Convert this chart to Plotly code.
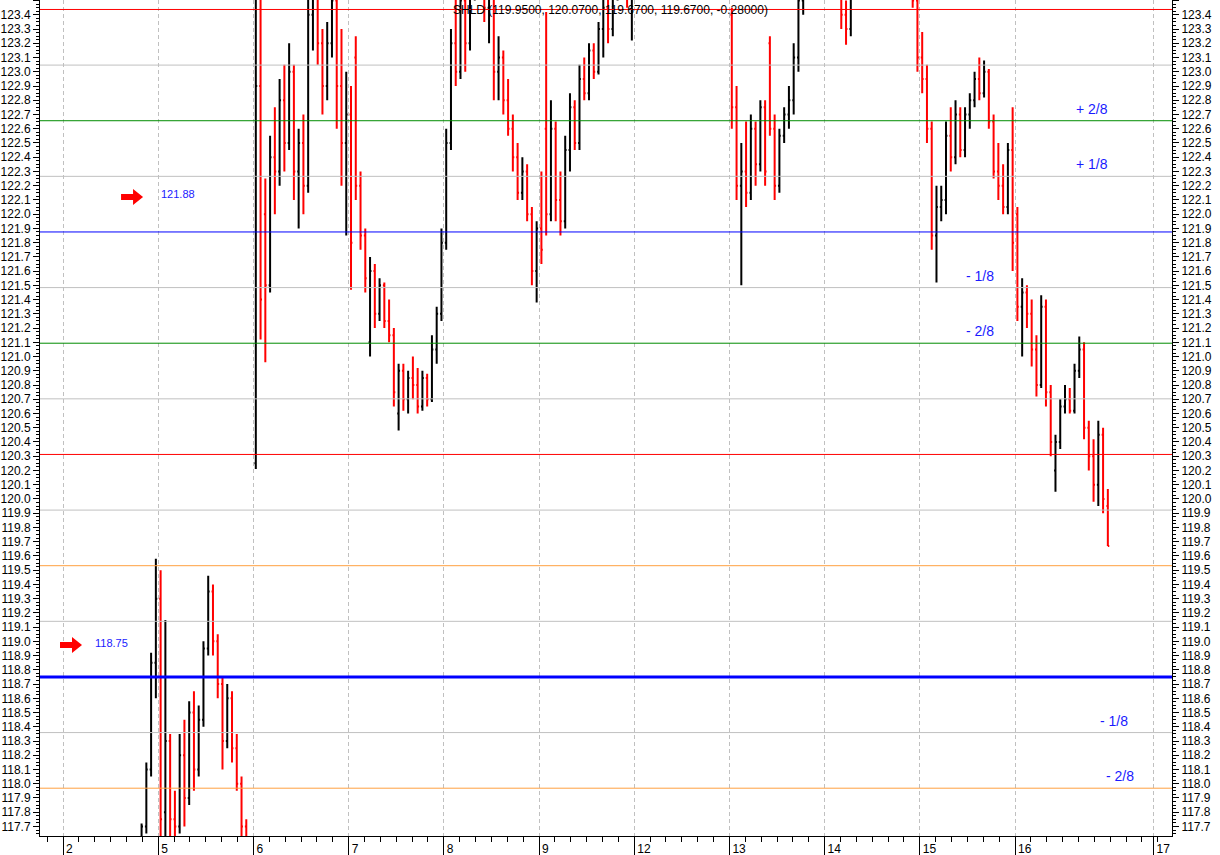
import plotly.graph_objects as go

# ---------------- data ----------------
day_labels = ["2", "5", "6", "7", "8", "9", "12", "13", "14", "15", "16", "17"]
day_tick_pos = [0, 1, 2, 3, 4, 5, 6, 7, 8, 9, 10, 11.455]
bars_per_day = 20
first_slot = 16  # first bar sits in slot 16 of session "2"

opens = [
    117.62, 117.70, 118.10, 118.85,
    119.30, 117.80, 118.30, 117.75, 117.70, 118.20, 117.90, 118.50, 118.10, 118.45, 118.95, 119.35, 119.00, 118.70, 118.30, 118.60, 118.25, 118.00, 117.70, 117.45,
    120.25, 122.90, 122.00, 121.50, 122.40, 122.30, 122.80, 122.50, 123.00, 122.30, 122.50, 122.20, 123.40, 123.60, 123.20, 122.90, 123.20, 123.50, 122.90, 122.50,
    122.70, 123.10, 122.20, 121.85, 121.10, 121.60, 121.30, 121.50, 121.25, 121.15, 120.60, 120.90, 120.70, 120.85, 120.80, 120.65, 120.85, 120.70, 121.05, 121.30,
    121.80, 122.50, 123.20, 123.00, 123.50, 123.20, 123.70, 123.90, 123.80, 123.45, 123.60, 123.00, 123.10, 122.80, 122.60, 122.40, 122.15, 122.30, 122.00, 121.60,
    121.90, 122.60, 122.00, 122.60, 122.10, 121.95, 122.45, 122.75, 122.50, 122.95, 122.85, 123.15, 123.00, 123.30, 123.45, 123.30, 123.60, 123.80, 123.70, 123.55,
    123.80, 124.00, 124.20, 124.10, 124.30, 124.50, 124.30, 124.20, 124.05, 124.30, 124.40, 124.15, 124.00, 124.10, 124.25, 124.20, 123.95, 124.05, 123.95, 123.80,
    123.40, 122.75, 122.20, 122.30, 122.15, 122.60, 122.35, 122.75, 123.20, 122.60, 122.20, 122.55, 122.70, 122.80, 123.10, 123.50, 123.85, 124.00, 123.90, 124.20,
    124.10, 124.00, 123.80, 123.60, 123.40, 123.30, 123.70, 123.90, 124.10, 124.20, 124.35, 124.20, 124.05, 124.20, 124.10, 123.90, 123.75, 123.90, 123.65, 123.50,
    123.10, 122.95, 122.60, 121.85, 122.05, 122.10, 122.55, 122.40, 122.70, 122.45, 122.70, 122.80, 122.95, 122.85, 123.00, 122.65, 122.30, 122.20, 122.05, 122.45,
    122.00, 121.35, 121.45, 121.30, 121.05, 120.80, 121.35, 120.75, 120.20, 120.40, 120.65, 120.70, 120.62, 120.90, 121.05, 120.50, 120.30, 120.10, 120.45, 119.95,
]
highs = [
    117.72, 118.15, 118.92, 119.58,
    119.50, 119.15, 118.35, 117.95, 118.35, 118.45, 118.58, 118.65, 118.55, 119.00, 119.46, 119.40, 119.05, 118.75, 118.70, 118.65, 118.35, 118.05, 117.75, 117.50,
    123.60, 123.55, 122.25, 122.55, 122.75, 122.95, 123.05, 123.20, 123.05, 122.60, 122.70, 123.60, 123.80, 123.70, 123.30, 123.35, 123.70, 123.55, 123.30, 123.00,
    122.90, 123.25, 122.30, 121.90, 121.70, 121.65, 121.55, 121.52, 121.40, 121.20, 120.95, 120.95, 120.90, 121.00, 120.92, 120.90, 120.88, 121.15, 121.35, 121.90,
    122.60, 123.30, 123.55, 123.60, 123.55, 123.80, 124.00, 124.10, 123.90, 123.70, 123.65, 123.25, 123.15, 122.95, 122.70, 122.50, 122.40, 122.35, 122.05, 121.95,
    122.30, 123.42, 122.80, 122.65, 122.30, 122.55, 122.85, 122.80, 123.05, 123.10, 123.20, 123.20, 123.35, 123.55, 123.60, 123.70, 123.90, 124.00, 123.80, 123.85,
    124.10, 124.30, 124.40, 124.35, 124.60, 124.55, 124.45, 124.30, 124.35, 124.50, 124.45, 124.25, 124.20, 124.30, 124.40, 124.25, 124.10, 124.20, 124.00, 123.90,
    123.45, 122.90, 122.50, 122.65, 122.70, 122.65, 122.80, 122.80, 123.25, 122.70, 122.60, 122.75, 122.90, 123.20, 123.55, 123.90, 124.10, 124.20, 124.30, 124.40,
    124.30, 124.10, 123.90, 123.70, 123.50, 123.75, 124.00, 124.20, 124.30, 124.40, 124.40, 124.30, 124.25, 124.30, 124.15, 124.00, 123.95, 123.95, 123.70, 123.60,
    123.28, 123.05, 122.65, 122.20, 122.20, 122.65, 122.75, 122.80, 122.75, 122.75, 122.85, 123.00, 123.10, 123.08, 123.02, 122.70, 122.50, 122.35, 122.50, 122.75,
    122.05, 121.55, 121.50, 121.40, 121.15, 121.43, 121.40, 120.80, 120.45, 120.70, 120.80, 120.78, 120.95, 121.14, 121.10, 120.55, 120.42, 120.55, 120.50, 120.07,
]
lows = [
    117.55, 117.65, 118.05, 118.60,
    117.55, 117.62, 117.62, 117.60, 117.65, 117.70, 117.85, 117.95, 118.05, 118.40, 118.90, 118.90, 118.60, 118.10, 118.25, 118.15, 117.95, 117.60, 117.40, 117.20,
    120.21, 121.12, 120.96, 121.45, 122.00, 122.20, 122.30, 122.45, 122.10, 121.90, 122.00, 122.15, 123.15, 123.05, 122.70, 122.80, 123.10, 122.60, 122.20, 121.85,
    121.47, 122.10, 121.75, 121.45, 121.00, 121.20, 121.25, 121.20, 121.10, 120.65, 120.48, 120.62, 120.60, 120.70, 120.60, 120.62, 120.65, 120.68, 120.95, 121.25,
    121.75, 122.45, 122.90, 122.95, 123.00, 123.15, 123.50, 123.70, 123.35, 123.20, 122.80, 122.80, 122.70, 122.55, 122.30, 122.10, 122.10, 121.95, 121.50, 121.38,
    121.65, 121.85, 121.95, 121.95, 121.85, 121.90, 122.30, 122.45, 122.45, 122.80, 122.80, 122.95, 122.98, 123.10, 123.20, 123.25, 123.50, 123.60, 123.45, 123.22,
    123.70, 123.90, 124.00, 124.00, 124.20, 124.20, 124.10, 123.95, 124.00, 124.20, 124.10, 123.90, 123.85, 124.00, 124.10, 123.90, 123.80, 123.90, 123.70, 123.60,
    122.60, 122.10, 121.50, 122.05, 122.10, 122.20, 122.30, 122.20, 122.55, 122.10, 122.15, 122.50, 122.60, 122.70, 123.00, 123.40, 123.70, 123.85, 123.85, 124.00,
    123.90, 123.70, 123.55, 123.30, 123.19, 123.25, 123.60, 123.80, 124.00, 124.10, 124.10, 124.00, 123.95, 124.00, 123.85, 123.70, 123.65, 123.60, 123.45, 123.00,
    122.85, 122.50, 121.75, 121.52, 121.95, 122.00, 122.30, 122.35, 122.40, 122.40, 122.60, 122.75, 122.80, 122.82, 122.60, 122.25, 122.10, 122.00, 122.00, 121.60,
    121.25, 121.00, 121.20, 120.93, 120.72, 120.78, 120.65, 120.30, 120.05, 120.35, 120.60, 120.60, 120.60, 120.85, 120.42, 120.20, 119.98, 119.95, 119.90, 119.67,
]
closes = [
    117.70, 118.10, 118.85, 119.30,
    117.75, 118.30, 117.75, 117.70, 118.20, 117.90, 118.50, 118.10, 118.45, 118.95, 119.35, 119.00, 118.70, 118.30, 118.60, 118.25, 118.00, 117.70, 117.45, 117.30,
    122.90, 121.40, 121.50, 122.40, 122.30, 122.80, 122.50, 123.00, 122.30, 122.50, 122.20, 123.40, 123.60, 123.20, 122.90, 123.20, 123.50, 122.90, 122.50, 122.70,
    121.80, 122.20, 121.85, 121.55, 121.60, 121.30, 121.50, 121.25, 121.15, 120.75, 120.90, 120.70, 120.85, 120.80, 120.65, 120.85, 120.70, 121.05, 121.30, 121.80,
    122.50, 123.20, 123.00, 123.50, 123.20, 123.70, 123.90, 123.80, 123.45, 123.60, 123.00, 123.10, 122.80, 122.60, 122.40, 122.15, 122.30, 122.00, 121.60, 121.90,
    121.75, 122.00, 122.60, 122.10, 121.95, 122.45, 122.75, 122.50, 122.95, 122.85, 123.15, 123.00, 123.30, 123.45, 123.30, 123.60, 123.80, 123.70, 123.55, 123.80,
    124.00, 124.20, 124.10, 124.30, 124.50, 124.30, 124.20, 124.05, 124.30, 124.40, 124.15, 124.00, 124.10, 124.25, 124.20, 123.95, 124.05, 123.95, 123.80, 123.70,
    122.75, 122.20, 122.30, 122.15, 122.60, 122.35, 122.75, 122.30, 122.60, 122.20, 122.55, 122.70, 122.80, 123.10, 123.50, 123.85, 124.00, 123.90, 124.20, 124.10,
    124.00, 123.80, 123.60, 123.40, 123.30, 123.70, 123.90, 124.10, 124.20, 124.35, 124.20, 124.05, 124.20, 124.10, 123.90, 123.75, 123.90, 123.65, 123.50, 123.10,
    122.95, 122.60, 121.85, 122.05, 122.10, 122.55, 122.40, 122.70, 122.45, 122.70, 122.80, 122.95, 122.85, 123.00, 122.65, 122.30, 122.20, 122.05, 122.45, 121.80,
    121.35, 121.45, 121.30, 121.05, 120.80, 121.35, 120.75, 120.40, 120.40, 120.65, 120.70, 120.62, 120.90, 121.05, 120.50, 120.30, 120.10, 120.45, 120.00, 119.67,
]
last_change = -0.28

# Murrey math levels
levels = [117.96875, 118.359375, 118.75, 119.140625, 119.53125, 119.921875,
          120.3125, 120.703125, 121.09375, 121.484375, 121.875,
          122.265625, 122.65625, 123.046875, 123.4375]
level_colors = ["#ffa040", "#c0c0c0", "#0000ff", "#c0c0c0", "#ffa040", "#c0c0c0",
                "#ff0000", "#c0c0c0", "#008c00", "#c0c0c0", "#0000ff",
                "#c0c0c0", "#008c00", "#c0c0c0", "#ff0000"]
level_widths = [1, 1, 3, 1, 1, 1, 1, 1, 1, 1, 1, 1, 1, 1, 1]

frame_values = [121.875, 118.75]
octave_labels = ["+ 2/8", "+ 1/8", "- 1/8", "- 2/8", "- 1/8", "- 2/8"]
octave_levels = [122.65625, 122.265625, 121.484375, 121.09375, 118.359375, 117.96875]
octave_xpos = [0.9293, 0.9293, 0.8304, 0.8304, 0.9488, 0.954]

# ---------------- figure ----------------
xs = [(first_slot + k + 0.5) / bars_per_day for k in range(len(opens))]

FONT = "Liberation Sans, Arial, sans-serif"
BLUE = "#1a1aff"

fig = go.Figure()
fig.add_trace(go.Ohlc(
    x=xs, open=opens, high=highs, low=lows, close=closes,
    increasing=dict(line=dict(color="black", width=2)),
    decreasing=dict(line=dict(color="red", width=2)),
    tickwidth=0.3, showlegend=False, hoverinfo="skip",
))
fig.add_trace(go.Scatter(x=[None], y=[None], yaxis="y2", showlegend=False, hoverinfo="skip"))

shapes = []
for lv, c, w in zip(levels, level_colors, level_widths):
    shapes.append(dict(type="line", xref="paper", x0=0, x1=1, yref="y", y0=lv, y1=lv,
                       line=dict(color=c, width=w), layer="above"))

arrow_path = "M0,-3 L12,-3 L12,-8 L22,0 L12,8 L12,3 L0,3 Z"
for ax_, ay_ in [(0.0716, 0.7644), (0.01767, 0.2285)]:
    shapes.append(dict(type="path", xref="paper", yref="paper",
                       xsizemode="pixel", ysizemode="pixel",
                       xanchor=ax_, yanchor=ay_, path=arrow_path,
                       fillcolor="#ff0000", line=dict(color="#ff0000", width=0)))

annotations = []
title_txt = "SHLD ({:.4f}, {:.4f}, {:.4f}, {:.4f}, {:.5f})".format(
    opens[-1], highs[-1], lows[-1], closes[-1], last_change)
annotations.append(dict(text=title_txt, xref="paper", yref="paper", x=0.504, y=0.988,
                        xanchor="center", yanchor="middle",
                        showarrow=False, font=dict(family=FONT, size=12, color="black")))
for v, xp, yv in zip(frame_values, [0.1219, 0.0636], [122.14, 118.99]):
    annotations.append(dict(text="{:.2f}".format(v), xref="paper", yref="y", x=xp, y=yv,
                            xanchor="center", yanchor="middle",
                            showarrow=False, font=dict(family=FONT, size=11, color=BLUE)))
for t, lv, xp in zip(octave_labels, octave_levels, octave_xpos):
    annotations.append(dict(text=t, xref="paper", yref="y", x=xp, y=lv,
                            xanchor="center", yanchor="bottom",
                            yshift=2, showarrow=False,
                            font=dict(family=FONT, size=14, color=BLUE)))

yrange = [117.633, 123.504]
yax = dict(range=yrange, dtick=0.1, tick0=0, tickformat=".1f", ticks="outside", ticklen=6,
           tickcolor="black", showline=True, linecolor="black", linewidth=1,
           showgrid=False, zeroline=False, fixedrange=True,
           tickfont=dict(family=FONT, size=12, color="black"),
           minor=dict(dtick=0.025, tick0=0, ticks="outside", ticklen=3, tickcolor="black",
                      showgrid=False))

fig.update_layout(
    width=1220, height=855,
    margin=dict(l=40, r=48, t=0, b=19),
    paper_bgcolor="white", plot_bgcolor="white",
    showlegend=False,
    xaxis=dict(range=[-0.242, 11.649], tickmode="array", tickvals=day_tick_pos,
               ticktext=day_labels, ticks="outside", ticklen=18, tickcolor="black",
               showline=True, linecolor="black", linewidth=1,
               showgrid=True, gridcolor="#c0c0c0", griddash="4px,3px", gridwidth=1,
               zeroline=False, fixedrange=True, rangeslider=dict(visible=False),
               ticklabelposition="outside right", ticklabelstandoff=2, ticklabelshift=2,
               tickfont=dict(family=FONT, size=12, color="black"),
               minor=dict(dtick=1 / 6, tick0=0, ticks="outside", ticklen=5,
                          tickcolor="black", showgrid=False)),
    yaxis=dict(side="left", **yax),
    yaxis2=dict(side="right", overlaying="y", anchor="x", **yax),
    shapes=shapes,
    annotations=annotations,
)

fig.write_html("out.html", config={"displayModeBar": False},
               post_script="document.body.style.margin='0';document.body.style.overflow='hidden';")
